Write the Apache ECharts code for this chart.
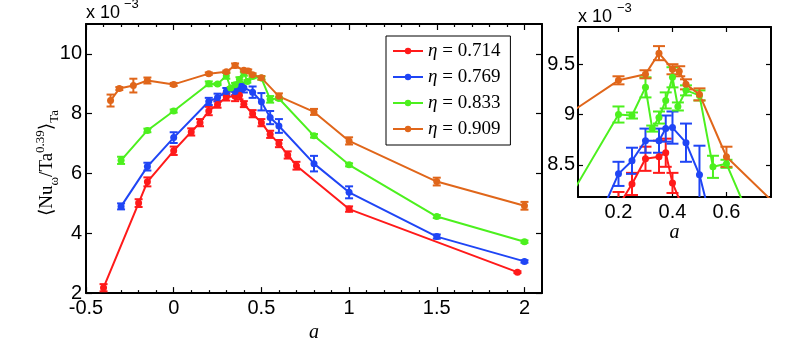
<!DOCTYPE html>
<html>
<head>
<meta charset="utf-8">
<title>Nu vs a</title>
<style>
html, body { margin: 0; padding: 0; background: #fff; }
#chart { width: 797px; height: 348px; }
</style>
</head>
<body>
<div id="chart"></div>
<script src="https://cdn.jsdelivr.net/npm/echarts@6/dist/echarts.min.js"></script>
<script>
// data, values in units of 1e-3
var aRed   = [-0.4, -0.2, -0.15, 0, 0.1, 0.15, 0.2, 0.25, 0.3, 0.35, 0.375, 0.4, 0.45, 0.5, 0.55, 0.6, 0.65, 0.7, 1, 1.96];
var vRed   = [2.18, 5.01, 5.72, 6.76, 7.39, 7.7, 8.09, 8.31, 8.56, 8.58, 8.62, 8.32, 8.0, 7.7, 7.31, 7.0, 6.62, 6.26, 4.81, 2.7];
var eRed   = [0.12, 0.13, 0.15, 0.14, 0.12, 0.12, 0.14, 0.11, 0.12, 0.16, 0.14, 0.1, 0.12, 0.12, 0.12, 0.12, 0.12, 0.13, 0.09, 0.03];

var aBlue  = [-0.3, -0.15, 0, 0.2, 0.25, 0.3, 0.35, 0.375, 0.4, 0.45, 0.5, 0.55, 0.6, 0.8, 1, 1.5, 2];
var vBlue  = [4.9, 6.23, 7.2, 8.41, 8.54, 8.74, 8.74, 8.86, 8.87, 8.72, 8.4, 7.87, 7.59, 6.33, 5.37, 3.89, 3.06];
var eBlue  = [0.1, 0.13, 0.18, 0.12, 0.13, 0.12, 0.12, 0.13, 0.16, 0.19, 0.29, 0.22, 0.23, 0.26, 0.2, 0.07, 0.04];

var aGreen = [-0.3, -0.15, 0, 0.2, 0.25, 0.3, 0.325, 0.35, 0.375, 0.4, 0.42, 0.45, 0.5, 0.55, 0.6, 0.8, 1, 1.5, 2];
var vGreen = [6.44, 7.44, 8.09, 9.0, 8.99, 9.27, 8.86, 8.97, 9.14, 9.37, 9.08, 9.24, 9.19, 8.48, 8.51, 7.26, 6.29, 4.56, 3.72];
var eGreen = [0.12, 0.06, 0.05, 0.08, 0.03, 0.1, 0.03, 0.06, 0.08, 0.1, 0.04, 0.05, 0.05, 0.11, 0.04, 0.06, 0.05, 0.05, 0.04];

var aOrange = [-0.36, -0.31, -0.23, -0.15, 0, 0.2, 0.3, 0.35, 0.4, 0.425, 0.45, 0.5, 0.6, 0.8, 1, 1.5, 2];
var vOrange = [8.44, 8.84, 8.94, 9.11, 8.98, 9.34, 9.4, 9.61, 9.45, 9.43, 9.3, 9.2, 8.58, 8.06, 7.09, 5.73, 4.92];
var eOrange = [0.2, 0.05, 0.23, 0.1, 0.05, 0.04, 0.04, 0.07, 0.05, 0.05, 0.05, 0.06, 0.1, 0.1, 0.12, 0.13, 0.13];

var names  = ['η = 0.714', 'η = 0.769', 'η = 0.833', 'η = 0.909'];
var colors = ['#ff1a1a', '#1f45f5', '#4cf01e', '#e0661a'];

var xMainTicks  = [-0.5, 0, 0.5, 1, 1.5, 2];
var yMainTicks  = [2, 4, 6, 8, 10];
var xInsetTicks = [0.2, 0.4, 0.6];
var yInsetTicks = [8.5, 9, 9.5];

var sans  = "'Liberation Sans', Arial, sans-serif";
var serif = "'Liberation Serif', 'DejaVu Serif', serif";

// minor ticks on the main x axis every 0.1
var xMainMinor = [];
for (var k = -4; k <= 20; k++) {
	if (k % 5 !== 0) xMainMinor.push(k / 10);
}

function axis(gi, min, max, pos, ticks, showLabel, len, showLine, margin) {
	return {
		type: 'value', gridIndex: gi, min: min, max: max, position: pos,
		axisLine: { show: showLine, onZero: false, lineStyle: { color: '#000', width: 2 } },
		axisTick: { show: true, inside: true, length: len, customValues: ticks, lineStyle: { color: '#000', width: 1.2 } },
		axisLabel: {
			show: showLabel, customValues: ticks, margin: margin,
			color: '#000', fontFamily: sans, fontSize: 20,
			formatter: function (v) { return String(v); }
		},
		splitLine: { show: false }
	};
}

var xAxes = [
	axis(0, -0.5, 2.1, 'bottom', xMainTicks, true, 6, true, 5),
	axis(0, -0.5, 2.1, 'top', xMainTicks, false, 6, true, 5),
	axis(0, -0.5, 2.1, 'bottom', xMainMinor, false, 3, false, 5),
	axis(0, -0.5, 2.1, 'top', xMainMinor, false, 3, false, 5),
	axis(1, 0.05, 0.765, 'bottom', xInsetTicks, true, 5, true, 5),
	axis(1, 0.05, 0.765, 'top', xInsetTicks, false, 5, true, 5)
];
xAxes[0].name = 'a';
xAxes[0].nameLocation = 'middle';
xAxes[0].nameGap = 19;
xAxes[0].nameTextStyle = { fontFamily: serif, fontStyle: 'italic', fontSize: 20, color: '#000' };
xAxes[4].name = 'a';
xAxes[4].nameLocation = 'middle';
xAxes[4].nameGap = 20;
xAxes[4].nameTextStyle = { fontFamily: serif, fontStyle: 'italic', fontSize: 20, color: '#000' };

var yAxes = [
	axis(0, 2, 11, 'left', yMainTicks, true, 6, true, 4),
	axis(0, 2, 11, 'right', yMainTicks, false, 6, true, 4),
	axis(1, 8.18, 9.87, 'left', yInsetTicks, true, 5, true, 3),
	axis(1, 8.18, 9.87, 'right', yInsetTicks, false, 5, true, 3)
];

function errSeries(a, v, e, color, xi, yi, cap, lw) {
	return {
		type: 'custom', name: 'err', xAxisIndex: xi, yAxisIndex: yi, clip: true, silent: true,
		data: a.map(function (x, i) { return [x, v[i] - e[i], v[i] + e[i]]; }),
		encode: { x: 0, y: [1, 2] },
		renderItem: function (params, api) {
			var lo = api.coord([api.value(0), api.value(1)]);
			var hi = api.coord([api.value(0), api.value(2)]);
			var st = { stroke: color, lineWidth: lw };
			return {
				type: 'group',
				children: [
					{ type: 'line', shape: { x1: lo[0], y1: lo[1], x2: hi[0], y2: hi[1] }, style: st },
					{ type: 'line', shape: { x1: lo[0] - cap, y1: lo[1], x2: lo[0] + cap, y2: lo[1] }, style: st },
					{ type: 'line', shape: { x1: hi[0] - cap, y1: hi[1], x2: hi[0] + cap, y2: hi[1] }, style: st }
				]
			};
		}
	};
}

function lineSeries(name, a, v, color, xi, yi) {
	return {
		type: 'line', name: name, xAxisIndex: xi, yAxisIndex: yi,
		data: a.map(function (x, i) { return [x, v[i]]; }),
		symbol: 'circle', symbolSize: 7, showAllSymbol: true,
		lineStyle: { color: color, width: 2 },
		itemStyle: { color: color },
		clip: true
	};
}

var groups = [
	[aRed, vRed, eRed],
	[aBlue, vBlue, eBlue],
	[aGreen, vGreen, eGreen],
	[aOrange, vOrange, eOrange]
];

var series = [];
groups.forEach(function (g, i) {
	series.push(lineSeries(names[i], g[0], g[1], colors[i], 0, 0));
	series.push(errSeries(g[0], g[1], g[2], colors[i], 0, 0, 4, 2));
	series.push(lineSeries(names[i], g[0], g[1], colors[i], 4, 2));
	series.push(errSeries(g[0], g[1], g[2], colors[i], 4, 2, 6, 2));
});

var option = {
	backgroundColor: '#fff',
	animation: false,
	grid: [
		{ left: 86, top: 24, width: 456, height: 272 },
		{ left: 578, top: 27, width: 193, height: 170 }
	],
	xAxis: xAxes,
	yAxis: yAxes,
	legend: {
		data: names,
		orient: 'vertical',
		left: 386, top: 36,
		padding: [5, 10, 6, 6],
		itemGap: 6,
		itemWidth: 30, itemHeight: 8,
		borderColor: '#000', borderWidth: 1,
		backgroundColor: '#fff',
		selectedMode: false,
		textStyle: {
			fontFamily: serif, fontSize: 19, color: '#000', lineHeight: 20,
			rich: { i: { fontFamily: serif, fontStyle: 'italic', fontSize: 19, lineHeight: 20 } }
		},
		formatter: function (n) { return n.replace('η', '{i|η}'); }
	},
	graphic: [
		{ type: 'text', x: 86, y: 13, style: { text: 'x 10', font: '18px ' + sans, fill: '#000', verticalAlign: 'middle' } },
		{ type: 'text', x: 124, y: 4, style: { text: '−3', font: '13px ' + sans, fill: '#000', verticalAlign: 'middle' } },
		{ type: 'text', x: 578, y: 17, style: { text: 'x 10', font: '18px ' + sans, fill: '#000', verticalAlign: 'middle' } },
		{ type: 'text', x: 617, y: 8, style: { text: '−3', font: '13px ' + sans, fill: '#000', verticalAlign: 'middle' } },
		{
			type: 'text', x: 47, y: 163, rotation: Math.PI / 2,
			style: {
				text: '{n|⟨Nu}{sb|ω}{n|/Ta}{sp|0.39}{n|⟩}{sb|Ta}',
				align: 'center', verticalAlign: 'middle', fill: '#000',
				rich: {
					n: { fontFamily: serif, fontSize: 19, lineHeight: 30, verticalAlign: 'middle' },
					sb: { fontFamily: serif, fontSize: 13, lineHeight: 13, verticalAlign: 'bottom', padding: [0, 0, 1, 0] },
					sp: { fontFamily: serif, fontSize: 13, lineHeight: 13, verticalAlign: 'top', padding: [2, 0, 0, 0] }
				}
			}
		}
	],
	series: series
};

var myChart = echarts.init(document.getElementById('chart'));
myChart.setOption(option);
</script>
</body>
</html>
